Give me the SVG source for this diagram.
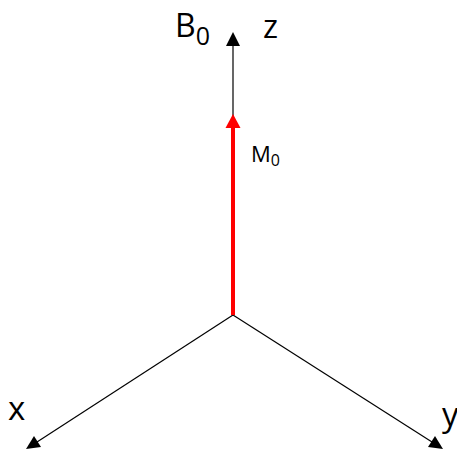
<svg xmlns="http://www.w3.org/2000/svg" width="457" height="450" viewBox="0 0 457 450">
<style>
text{font-family:"Open Sans","Liberation Sans",sans-serif;fill:#000}
.ax{stroke:#000;stroke-width:1.2;fill:none}
</style>
<rect width="457" height="450" fill="#fff"/>
<g id="connectors">
<line class="ax" x1="233" y1="315" x2="233" y2="46"/>
<path d="M233,32 L240,46 L226,46 Z" fill="#000"/>
<line class="ax" x1="233" y1="315" x2="37" y2="442"/>
<path d="M26,449 L34,436 L41,447 Z" fill="#000"/>
<line class="ax" x1="233" y1="315" x2="432" y2="442"/>
<path d="M443,449 L428,447 L435,436 Z" fill="#000"/>
<line x1="233" y1="315" x2="233" y2="126" stroke="#f00" stroke-width="4"/>
<path d="M233,114 L240.5,128 L225.5,128 Z" fill="#f00"/>
</g>
<g id="label-B0"><text x="175" y="37" font-size="32">B<tspan font-size="25" dy="8">0</tspan></text></g>
<g id="label-z"><text x="263" y="38" font-size="32">z</text></g>
<g id="label-M0"><text x="251" y="162" font-size="22">M<tspan font-size="16" dy="4">0</tspan></text></g>
<g id="label-x"><text x="8" y="420" font-size="33">x</text></g>
<g id="label-y"><text x="442" y="426" font-size="33">y</text></g>
</svg>
